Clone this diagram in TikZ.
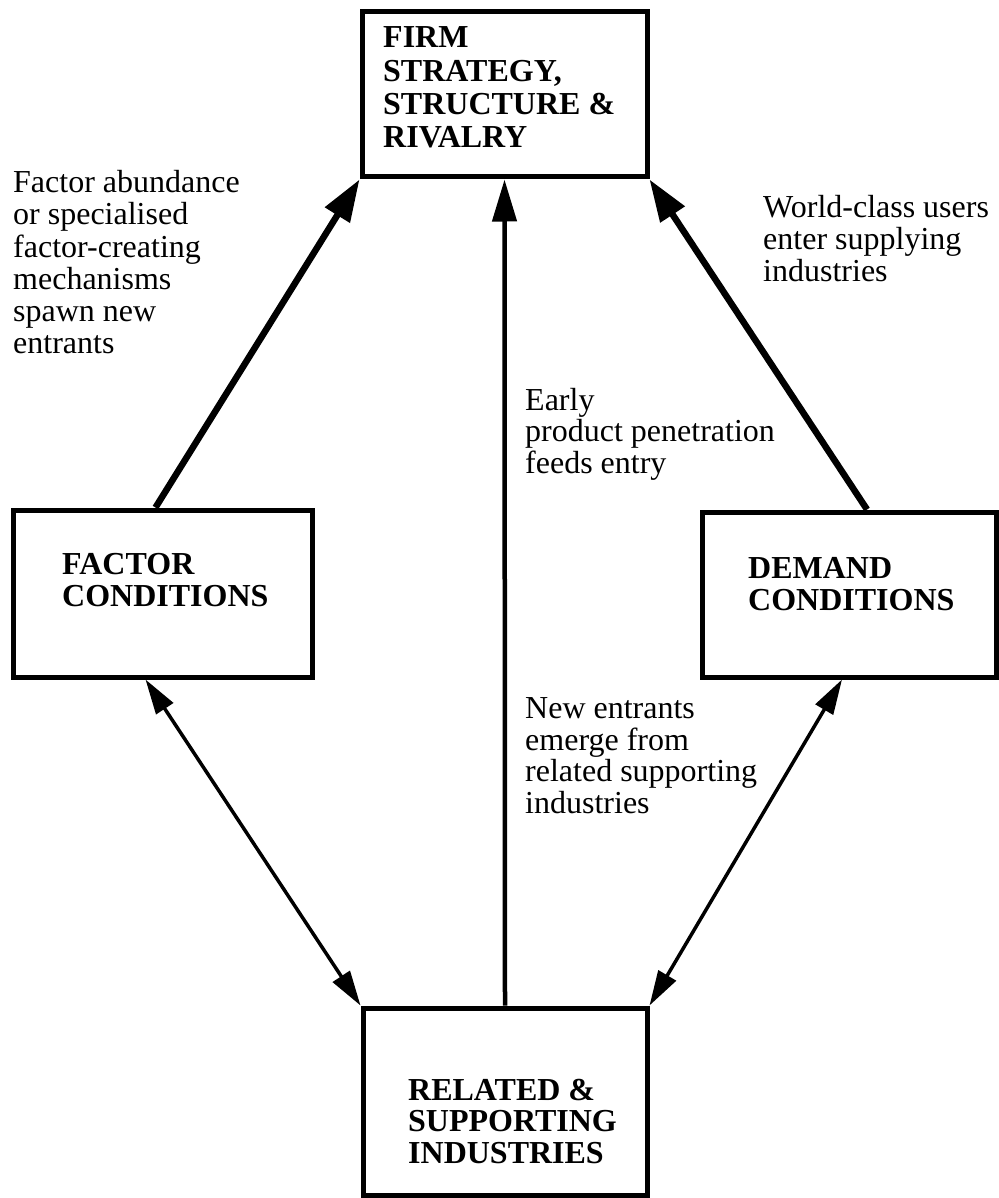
\documentclass[tikz,border=0pt]{standalone}
\usepackage{fontspec}
\setmainfont{Liberation Serif}
\usetikzlibrary{arrows.meta}
% left-aligned block of lines whose baseline is the first line
\newcommand\stackl[1]{\begin{tabular}[t]{@{}l@{}}#1\end{tabular}}
\begin{document}
\begin{tikzpicture}[x=1pt,y=-1pt,
  box/.style={draw, line width=5pt, rectangle, inner sep=0pt},
  note/.style={anchor=base west, inner sep=0pt, font=\fontsize{32}{32}\selectfont},
  heading/.style={anchor=base west, inner sep=0pt, font=\fontsize{32}{32}\selectfont\bfseries},
  major/.style={line width=6.5pt, -{Triangle[length=42pt,width=28pt]}},
  entry/.style={line width=4.5pt, -{Triangle[length=42pt,width=24pt]}},
  mutual/.style={line width=3.5pt, {Triangle[length=35pt,width=20pt]}-{Triangle[length=35pt,width=20pt]}}
]
\useasboundingbox (0,0) rectangle (998,1198);

% the four determinants
\node[box, minimum width=285pt, minimum height=165pt] (firm)    at (504.5,94.5)  {};
\node[box, minimum width=299pt, minimum height=167pt] (factor)  at (162.5,593.5) {};
\node[box, minimum width=294pt, minimum height=165pt] (demand)  at (849,594.5)   {};
\node[box, minimum width=284pt, minimum height=187pt] (related) at (505,1101.5)  {};

% box titles
\node[heading] (firmT)    at (383,48)   {\fontsize{32}{33.3}\selectfont\stackl{FIRM\\STRATEGY,\\STRUCTURE \&\\RIVALRY}};
\node[heading] (factorT)  at (62,574)   {\stackl{FACTOR\\CONDITIONS}};
\node[heading] (demandT)  at (748,578)  {\stackl{DEMAND\\CONDITIONS}};
\node[heading] (relatedT) at (408,1100) {\fontsize{32}{31.5}\selectfont\stackl{RELATED \&\\SUPPORTING\\INDUSTRIES}};

% explanatory notes
\node[note] (nFactor) at (13,193)  {\stackl{Factor abundance\\or specialised\\factor-creating\\mechanisms\\spawn new\\entrants}};
\node[note] (nDemand) at (763,218) {\stackl{World-class users\\enter supplying\\industries}};
\node[note] (nEarly)  at (525,410) {\fontsize{32}{31.5}\selectfont\stackl{Early\\product penetration\\feeds entry}};
\node[note] (nNew)    at (525,718) {\fontsize{32}{31.7}\selectfont\stackl{New entrants\\emerge from\\related supporting\\industries}};

% connectors
\draw[major]  ([xshift=-7pt]factor.north) -- (firm.south west);
\draw[major]  ([xshift=18pt]demand.north) -- (firm.south east);
\draw[entry]  (related.north) -- (firm.south);
\draw[mutual] ([xshift=-17pt]factor.south) -- (related.north west);
\draw[mutual] ([xshift=-7pt]demand.south) -- (related.north east);
\end{tikzpicture}
\end{document}
